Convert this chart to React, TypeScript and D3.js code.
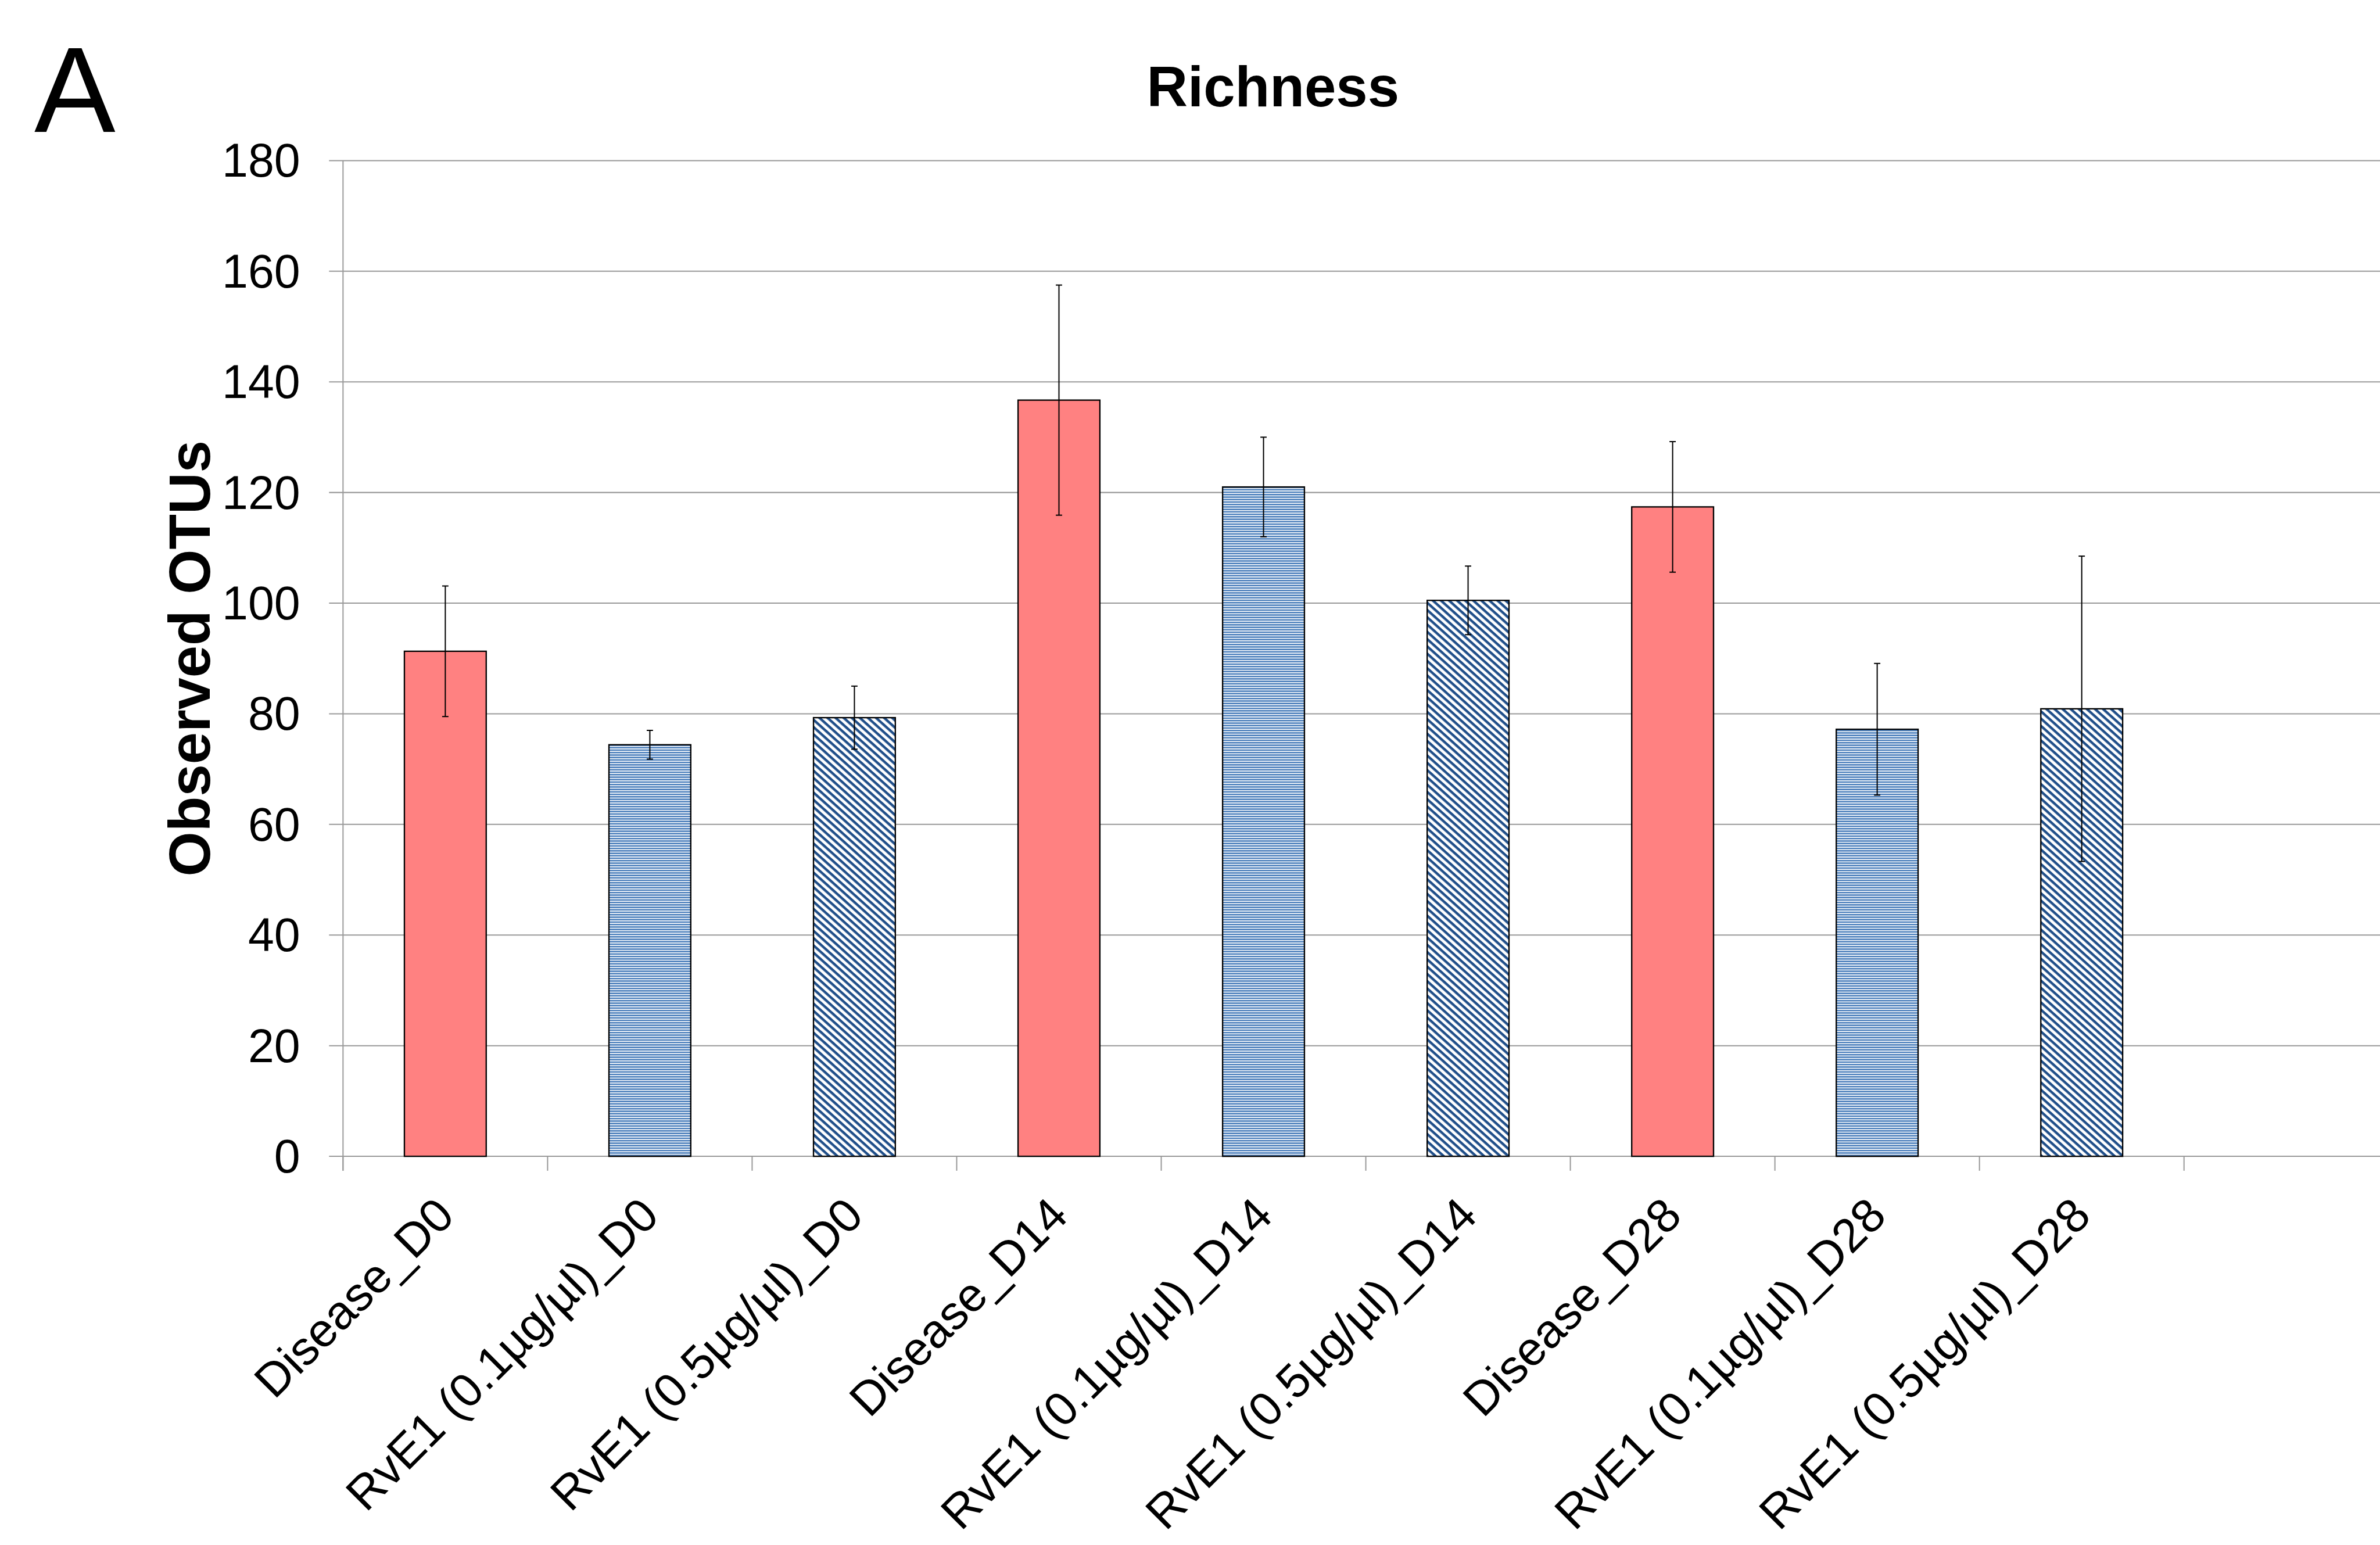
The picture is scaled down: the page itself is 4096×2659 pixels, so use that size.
import React, { useEffect } from "react";
import * as d3 from "d3";

const categories = [
  "Disease_D0",
  "RvE1 (0.1µg/µl)_D0",
  "RvE1 (0.5µg/µl)_D0",
  "Disease_D14",
  "RvE1 (0.1µg/µl)_D14",
  "RvE1 (0.5µg/µl)_D14",
  "Disease_D28",
  "RvE1 (0.1µg/µl)_D28",
  "RvE1 (0.5µg/µl)_D28",
];
const groups = ["disease", "low", "high", "disease", "low", "high", "disease", "low", "high"];
const means = [91.3, 74.4, 79.3, 136.7, 121.0, 100.5, 117.4, 77.2, 80.9];
const errors = [11.8, 2.6, 5.7, 20.8, 9.0, 6.2, 11.8, 11.9, 27.6];
const yTicks = [0, 20, 40, 60, 80, 100, 120, 140, 160, 180];
const slots = [...categories, "__empty__"];

const W = 5280;
const H = 3427;
const FONT = "'Liberation Sans', Arial, Helvetica, sans-serif";

export default function App() {
  useEffect(() => {
    document.body.style.margin = "0";
  }, []);

  const left = 761;
  const top = 356;
  const bottom = 2565;
  const step = 453.8;

  const x = d3
    .scaleBand<string>()
    .domain(slots)
    .range([left, left + step * slots.length])
    .paddingInner(0.6)
    .paddingOuter(0.3);
  const y = d3.scaleLinear().domain([0, 180]).range([bottom, top]);

  const fills: Record<string, string> = {
    disease: "#FF8181",
    low: "url(#hstripe)",
    high: "url(#diag)",
  };

  const boundaries = d3.range(slots.length + 1).map((i) => left + i * x.step());

  return (
    <svg
      width={4096}
      height={2659}
      viewBox={`0 0 ${W} ${H}`}
      style={{ display: "block", background: "#fff" }}
      fontFamily={FONT}
    >
      <defs>
        <pattern id="hstripe" patternUnits="userSpaceOnUse" width={20} height={5.45}>
          <rect width={20} height={5.45} fill="#ffffff" />
          <rect width={20} height={3.3} fill="#4A7EBB" />
        </pattern>
        <pattern
          id="diag"
          patternUnits="userSpaceOnUse"
          width={20}
          height={12}
          patternTransform="rotate(42)"
        >
          <rect width={20} height={12} fill="#ffffff" />
          <rect width={20} height={5.6} fill="#1F4E89" />
        </pattern>
      </defs>
      <rect width={W} height={H} fill="#fff" />

      {/* panel letter */}
      <text x={76} y={292} fontSize={270} fill="#000">
        A
      </text>

      {/* title */}
      <text x={2824} y={236} fontSize={126} fontWeight="bold" textAnchor="middle" fill="#000">
        Richness
      </text>

      {/* y axis label */}
      <text
        transform={`translate(465, ${(top + bottom) / 2}) rotate(-90)`}
        fontSize={128}
        fontWeight="bold"
        textAnchor="middle"
        fill="#000"
      >
        Observed OTUs
      </text>

      {/* gridlines and y ticks */}
      {yTicks.map((t) => (
        <g key={t}>
          <line x1={730} x2={W} y1={y(t)} y2={y(t)} stroke="#999999" strokeWidth={2.6} />
          <text x={666} y={y(t) + 36} fontSize={104} textAnchor="end" fill="#000">
            {t}
          </text>
        </g>
      ))}

      {/* y axis line */}
      <line x1={left} x2={left} y1={top} y2={bottom + 32} stroke="#999999" strokeWidth={2.6} />

      {/* x axis ticks */}
      {boundaries.map((bx, i) => (
        <line key={i} x1={bx} x2={bx} y1={bottom} y2={bottom + 32} stroke="#999999" strokeWidth={2.6} />
      ))}

      {/* bars */}
      {categories.map((c, i) => (
        <rect
          key={c}
          x={x(c)}
          y={y(means[i])}
          width={x.bandwidth()}
          height={y(0) - y(means[i])}
          fill={fills[groups[i]]}
          stroke="#000"
          strokeWidth={3}
        />
      ))}

      {/* error bars */}
      {categories.map((c, i) => {
        const cx = (x(c) as number) + x.bandwidth() / 2;
        const y1 = y(means[i] + errors[i]);
        const y2 = y(means[i] - errors[i]);
        return (
          <g key={c} stroke="#000" strokeWidth={2.6}>
            <line x1={cx} x2={cx} y1={y1} y2={y2} />
            <line x1={cx - 7} x2={cx + 7} y1={y1} y2={y1} />
            <line x1={cx - 7} x2={cx + 7} y1={y2} y2={y2} />
          </g>
        );
      })}

      {/* x labels */}
      {categories.map((c) => {
        const cx = (x(c) as number) + x.bandwidth() / 2;
        return (
          <text
            key={c}
            transform={`translate(${cx - 1}, 2676) rotate(-45)`}
            fontSize={105}
            textAnchor="end"
            dy="0.35em"
            fill="#000"
          >
            {c}
          </text>
        );
      })}
    </svg>
  );
}
